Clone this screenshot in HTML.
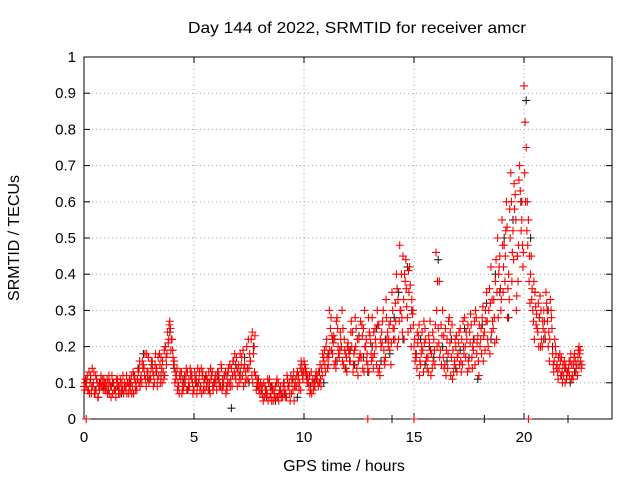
<!DOCTYPE html>
<html><head><meta charset="utf-8"><style>
body{margin:0;background:#fff}
svg{display:block;font-family:"Liberation Sans",sans-serif}
</style></head><body>
<svg id="chart" width="640" height="480">
<text x="357" y="33" font-size="16" textLength="338" lengthAdjust="spacingAndGlyphs" text-anchor="middle">Day 144 of 2022, SRMTID for receiver amcr</text>
<text x="344" y="471" font-size="16" text-anchor="middle">GPS time / hours</text>
<text transform="translate(19,238) rotate(-90)" font-size="16" text-anchor="middle">SRMTID / TECUs</text>
<g id="grid"></g>
<g id="axes"></g>
<g id="marks"></g>
</svg>
<script>
const xTicks=[0,5,10,15,20];
const yTicks=[0,0.1,0.2,0.3,0.4,0.5,0.6,0.7,0.8,0.9,1];
const yTickLabels=["0","0.1","0.2","0.3","0.4","0.5","0.6","0.7","0.8","0.9","1"];
const redStep=0.1;
const redAStart=0.0;
const redA=[.09,.10,.08,.12,.09,.07,.10,.08,.09,.11,
.08,.10,.09,.07,.08,.10,.09,.08,.07,.09,
.10,.08,.09,.11,.08,.10,.12,.15,.11,.13,
.12,.16,.10,.14,.12,.17,.13,.20,.24,.27,
.22,.16,.12,.09,.11,.08,.10,.13,.09,.11,
.08,.12,.10,.09,.13,.08,.11,.10,.12,.09,
.10,.13,.09,.11,.12,.08,.10,.14,.16,.11,
.13,.18,.12,.15,.20,.14,.22,.18,.12,.10,
.07,.09,.06,.08,.10,.07,.05,.09,.06,.08,
.07,.10,.06,.09,.12,.08,.11,.13,.10,.15,
.16,.13,.10,.08,.11,.09,.12,.10,.14,.17,
.20,.15,.25,.18,.22,.28,.17,.20,.15,.18,
.21,.16,.24,.19,.14,.22,.17,.25,.20,.15,
.23,.28,.18,.15,.26,.20,.30,.17,.24,.19,
.35,.25,.40,.22,.30,.45,.38,.28,.42,.33,
.20,.17,.23,.15,.19,.25,.14,.21,.18,.22,
.46,.25,.19,.30,.15,.22,.28,.17,.13,.20,
.18,.25,.15,.28,.22,.14,.26,.19,.30,.23,
.20,.28,.24,.35,.30,.42,.25,.38,.50,.45,
.55,.48,.60,.40,.68,.52,.62,.45,.70,.55,
.92,.75,.55,.40,.30,.35,.25,.28,.22,.30,
.35,.20,.33,.18,.22,.15,.14,.17,.12,.15,
.13,.16,.12,.18,.15,.20,.14];
const redBStart=0.05;
const redB=[.10,.12,.07,.09,.13,.08,.06,.10,.09,.08,
.11,.07,.09,.10,.06,.09,.11,.08,.10,.07,
.09,.12,.07,.10,.14,.09,.16,.12,.18,.10,
.14,.09,.18,.11,.15,.10,.19,.15,.22,.19,
.17,.13,.08,.12,.07,.10,.14,.09,.12,.07,
.11,.09,.13,.07,.10,.12,.08,.14,.09,.11,
.12,.09,.14,.10,.07,.13,.09,.12,.18,.14,
.10,.15,.09,.13,.11,.16,.24,.13,.09,.08,
.09,.05,.08,.11,.06,.09,.07,.10,.05,.07,
.09,.06,.11,.07,.10,.05,.09,.12,.08,.11,
.13,.10,.12,.07,.10,.13,.09,.11,.18,.15,
.17,.30,.19,.23,.14,.20,.24,.16,.19,.13,
.18,.27,.15,.20,.12,.18,.23,.30,.16,.13,
.18,.14,.22,.26,.12,.21,.16,.28,.22,.15,
.25,.32,.20,.48,.28,.22,.36,.41,.25,.30,
.16,.24,.12,.20,.27,.16,.13,.19,.24,.15,
.20,.38,.15,.23,.12,.18,.24,.11,.16,.13,
.24,.13,.20,.17,.26,.21,.14,.27,.18,.12,
.25,.16,.30,.22,.18,.33,.28,.22,.40,.30,
.35,.45,.28,.58,.38,.65,.30,.48,.60,.42,
.82,.60,.45,.33,.38,.26,.32,.20,.27,.24,
.30,.16,.28,.13,.18,.11,.16,.10,.14,.12,
.16,.11,.15,.13,.17,.19];
const redCStart=0.03;
const redC=[.08,.11,.13,.07,.10,.12,.06,.09,.11,.10,
.09,.12,.06,.10,.08,.11,.07,.10,.09,.12,
.07,.10,.13,.08,.11,.16,.10,.14,.09,.17,
.11,.13,.15,.09,.18,.14,.11,.17,.21,.25,
.19,.10,.14,.07,.13,.09,.12,.08,.14,.10,
.13,.07,.11,.14,.08,.12,.10,.07,.13,.10,
.08,.12,.15,.09,.13,.10,.15,.09,.13,.17,
.15,.11,.19,.10,.14,.18,.12,.20,.08,.11,
.10,.06,.09,.07,.11,.05,.08,.06,.10,.09,
.06,.08,.12,.10,.07,.13,.09,.10,.14,.12,
.15,.11,.09,.13,.08,.12,.10,.15,.12,.19,
.22,.17,.28,.21,.16,.25,.19,.30,.22,.17,
.19,.24,.13,.28,.22,.17,.26,.13,.22,.28,
.21,.17,.25,.30,.14,.24,.19,.33,.20,.27,
.30,.22,.36,.27,.40,.33,.44,.24,.37,.29,
.22,.14,.26,.18,.13,.22,.17,.27,.14,.19,
.30,.21,.26,.17,.25,.14,.21,.26,.15,.23,
.21,.16,.27,.20,.13,.24,.17,.22,.28,.16,
.22,.31,.19,.27,.36,.24,.33,.44,.28,.36,
.48,.38,.53,.33,.60,.44,.55,.38,.63,.48,
.68,.52,.38,.45,.27,.31,.24,.34,.20,.27,
.32,.24,.30,.15,.20,.13,.18,.13,.16,.11,
.14,.18,.11,.16,.12,.18,.15];
const redDStart=0.07;
const redD=[.11,.08,.10,.14,.07,.11,.09,.12,.08,.10,
.07,.10,.12,.08,.11,.07,.10,.12,.08,.10,
.11,.07,.12,.09,.13,.11,.14,.18,.13,.11,
.16,.12,.13,.17,.10,.16,.12,.18,.26,.22,
.15,.11,.10,.13,.09,.12,.08,.11,.13,.08,
.10,.14,.08,.12,.11,.09,.13,.11,.08,.12,
.13,.10,.08,.12,.09,.14,.11,.16,.12,.09,
.12,.17,.14,.11,.22,.16,.10,.23,.11,.09,
.08,.10,.07,.05,.09,.08,.06,.11,.07,.06,
.10,.07,.09,.05,.11,.09,.12,.08,.16,.13,
.14,.12,.07,.10,.09,.11,.13,.09,.16,.13,
.14,.19,.23,.15,.27,.18,.22,.25,.14,.20,
.16,.20,.18,.25,.16,.27,.14,.20,.18,.24,
.16,.24,.20,.13,.22,.27,.15,.22,.26,.21,
.22,.27,.33,.30,.24,.40,.31,.35,.20,.26,
.18,.21,.16,.24,.21,.17,.23,.12,.16,.26,
.38,.17,.23,.14,.19,.27,.12,.19,.22,.17,
.15,.22,.18,.24,.16,.29,.20,.15,.21,.26,
.18,.23,.27,.20,.32,.27,.21,.35,.42,.33,
.42,.52,.36,.50,.46,.58,.34,.66,.52,.46,
.60,.48,.32,.36,.22,.29,.20,.30,.25,.22,
.27,.22,.25,.16,.14,.17,.12,.15,.10,.13,
.12,.15,.17,.14,.19,.16];
const blackStart=0.1, blackStep=0.2;
const black=[.09,.11,.08,.10,.09,.08,.10,.09,.07,.09,
.10,.12,.14,.18,.11,.15,.13,.12,.20,.24,
.14,.09,.11,.08,.12,.10,.09,.11,.08,.10,
.11,.09,.12,.03,.15,.13,.17,.10,.20,.09,
.07,.06,.09,.05,.08,.07,.09,.11,.06,.13,
.12,.09,.11,.13,.10,.18,.22,.16,.20,.14,
.19,.15,.23,.17,.13,.20,.25,.16,.22,.18,
.28,.35,.22,.42,.30,.18,.22,.15,.20,.17,
.44,.20,.16,.22,.14,.19,.25,.17,.22,.11,
.26,.32,.22,.40,.35,.50,.28,.55,.45,.60,
.88,.50,.35,.28,.22,.30,.20,.15,.12,.14,
.10,.13,.15];
const zeroRedTimes=[0.1,12.9,15.0,20.2];
const zeroBlackTimes=[14.0,18.2,22.0];

const L=84,R=612,T=57,B=419,XMAX=24;
const xs=v=>L+(R-L)*v/XMAX;
const ys=v=>B-(B-T)*v;
const NS="http://www.w3.org/2000/svg";
function mk(tag,attrs,parent){const e=document.createElementNS(NS,tag);for(const k in attrs)e.setAttribute(k,attrs[k]);parent.appendChild(e);return e;}
const grid=document.getElementById('grid'),axes=document.getElementById('axes'),marks=document.getElementById('marks');
yTicks.forEach((v,i)=>{
  if(v>0&&v<1){const g=mk('line',{x1:L,x2:R,y1:ys(v),y2:ys(v),stroke:'#a0a0a0','stroke-dasharray':'1,3'},grid);
  
  }
  mk('line',{x1:L,x2:L+6,y1:ys(v),y2:ys(v),stroke:'#000'},axes);
  mk('line',{x1:R,x2:R-6,y1:ys(v),y2:ys(v),stroke:'#000'},axes);
  const t=mk('text',{x:L-8,y:ys(v)+5,'font-size':15,'text-anchor':'end'},axes);t.textContent=yTickLabels[i];
  
  
});
xTicks.forEach(v=>{
  if(v>0){const g=mk('line',{x1:xs(v),x2:xs(v),y1:T,y2:B,stroke:'#a0a0a0','stroke-dasharray':'1,3'},grid);
  
  }
  mk('line',{x1:xs(v),x2:xs(v),y1:B,y2:B-6,stroke:'#000'},axes);
  mk('line',{x1:xs(v),x2:xs(v),y1:T,y2:T+6,stroke:'#000'},axes);
  const t=mk('text',{x:xs(v),y:B+23,'font-size':15,'text-anchor':'middle'},axes);t.textContent=String(v);
  
  
});
const frame=mk('rect',{x:L,y:T,width:R-L,height:B-T,fill:'none',stroke:'#000'},axes);


function plus(t,v,color,name){
  const x=xs(t),y=ys(v);
  const p=mk('path',{d:`M${x-4},${y}H${x+4}M${x},${y-4}V${y+4}`,stroke:color,'stroke-width':1.1,fill:'none'},marks);
  
  
}
black.forEach((v,i)=>plus(blackStart+i*blackStep,v,'#202020','black-point'));
redD.forEach((v,i)=>plus(redDStart+i*redStep,v,'#ff0000','red-point'));
redC.forEach((v,i)=>plus(redCStart+i*redStep,v,'#ff0000','red-point'));
redB.forEach((v,i)=>plus(redBStart+i*redStep,v,'#ff0000','red-point'));
redA.forEach((v,i)=>plus(redAStart+i*redStep,v,'#ff0000','red-point'));
zeroRedTimes.forEach(t=>plus(t,0,'#ff0000','red-zero-point'));
zeroBlackTimes.forEach(t=>plus(t,0,'#202020','black-zero-point'));
</script>
</body></html>
